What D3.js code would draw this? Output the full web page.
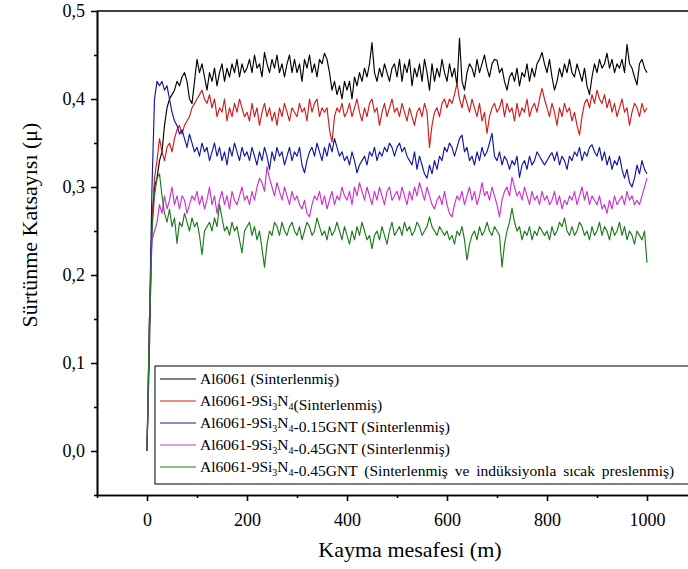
<!DOCTYPE html>
<html>
<head>
<meta charset="utf-8">
<script src="https://cdn.jsdelivr.net/npm/d3@7"></script>
<style>
  body { margin: 0; background: #fff; }
  svg { display: block; }
</style>
</head>
<body>
<svg id="chart" width="688" height="569"></svg>
<script>
// Sliding distance grid (m), one reading every 5 m
const distance = d3.range(0, 1001, 5);

// Friction coefficient readings per sample
const al6061 = [
  0.00,0.12,0.26,0.30,0.31,0.33,0.34,0.37,0.39,0.40,0.405,0.41,0.42,0.415,0.425,0.43,0.42,0.40,0.395,0.42,
  0.445,0.43,0.44,0.425,0.41,0.43,0.42,0.435,0.415,0.43,0.44,0.42,0.435,0.425,0.44,0.43,0.445,0.425,0.44,0.43,
  0.435,0.445,0.43,0.45,0.435,0.44,0.425,0.453,0.44,0.43,0.445,0.435,0.45,0.43,0.44,0.425,0.44,0.45,0.43,0.445,
  0.43,0.44,0.42,0.445,0.435,0.45,0.43,0.44,0.425,0.445,0.44,0.452,0.445,0.43,0.41,0.42,0.405,0.415,0.40,0.42,
  0.41,0.42,0.40,0.425,0.415,0.43,0.42,0.435,0.425,0.44,0.464,0.43,0.42,0.435,0.425,0.44,0.43,0.42,0.435,0.44,
  0.425,0.445,0.42,0.44,0.43,0.445,0.415,0.435,0.425,0.44,0.42,0.445,0.43,0.41,0.44,0.42,0.435,0.425,0.445,0.43,
  0.42,0.44,0.425,0.435,0.415,0.469,0.42,0.41,0.43,0.44,0.435,0.425,0.445,0.43,0.44,0.45,0.435,0.425,0.44,0.445,
  0.444,0.43,0.435,0.42,0.41,0.425,0.43,0.42,0.435,0.415,0.43,0.425,0.44,0.42,0.435,0.425,0.44,0.445,0.453,0.44,
  0.43,0.445,0.425,0.41,0.42,0.435,0.425,0.44,0.43,0.445,0.43,0.425,0.44,0.43,0.42,0.435,0.415,0.405,0.425,0.44,
  0.43,0.445,0.435,0.44,0.452,0.435,0.445,0.43,0.44,0.435,0.445,0.43,0.462,0.44,0.435,0.425,0.416,0.44,0.445,0.435,
  0.43
];
const al6061Si3N4 = [
  0.00,0.15,0.26,0.31,0.33,0.355,0.34,0.33,0.345,0.35,0.34,0.355,0.365,0.37,0.36,0.37,0.375,0.38,0.39,0.395,
  0.40,0.405,0.41,0.40,0.395,0.405,0.39,0.40,0.38,0.39,0.385,0.40,0.375,0.39,0.38,0.395,0.385,0.40,0.39,0.38,
  0.385,0.375,0.395,0.38,0.39,0.37,0.385,0.395,0.38,0.39,0.375,0.385,0.37,0.39,0.38,0.395,0.385,0.375,0.39,0.385,
  0.38,0.395,0.385,0.39,0.375,0.40,0.385,0.395,0.40,0.38,0.39,0.385,0.39,0.365,0.351,0.38,0.39,0.385,0.395,0.38,
  0.385,0.395,0.38,0.39,0.40,0.385,0.375,0.39,0.38,0.395,0.40,0.385,0.39,0.37,0.385,0.395,0.38,0.39,0.40,0.385,
  0.39,0.38,0.395,0.385,0.375,0.39,0.38,0.37,0.385,0.39,0.38,0.395,0.385,0.345,0.37,0.385,0.39,0.38,0.395,0.40,
  0.39,0.40,0.395,0.405,0.418,0.40,0.39,0.405,0.395,0.385,0.40,0.39,0.38,0.395,0.375,0.385,0.361,0.38,0.39,0.395,
  0.385,0.39,0.40,0.38,0.395,0.385,0.39,0.375,0.395,0.38,0.39,0.385,0.40,0.38,0.39,0.395,0.385,0.40,0.412,0.40,
  0.39,0.38,0.395,0.385,0.37,0.39,0.38,0.395,0.385,0.39,0.375,0.385,0.37,0.359,0.38,0.395,0.40,0.39,0.405,0.395,
  0.41,0.40,0.395,0.405,0.39,0.40,0.385,0.395,0.38,0.39,0.40,0.385,0.39,0.37,0.385,0.395,0.39,0.38,0.395,0.385,
  0.39
];
const al6061GNT015 = [
  0.00,0.15,0.30,0.40,0.42,0.415,0.42,0.41,0.415,0.40,0.385,0.375,0.37,0.36,0.365,0.355,0.345,0.36,0.35,0.34,
  0.345,0.335,0.35,0.34,0.345,0.33,0.34,0.35,0.335,0.345,0.33,0.34,0.325,0.345,0.335,0.35,0.34,0.33,0.345,0.335,
  0.34,0.33,0.345,0.335,0.325,0.34,0.33,0.345,0.335,0.32,0.34,0.33,0.345,0.335,0.34,0.325,0.335,0.345,0.33,0.34,
  0.335,0.345,0.325,0.316,0.33,0.34,0.345,0.335,0.35,0.34,0.33,0.345,0.335,0.35,0.34,0.355,0.345,0.335,0.34,0.33,
  0.335,0.325,0.34,0.33,0.316,0.325,0.33,0.335,0.325,0.34,0.335,0.345,0.33,0.34,0.335,0.345,0.34,0.35,0.345,0.335,
  0.345,0.35,0.34,0.345,0.335,0.33,0.325,0.34,0.32,0.335,0.325,0.315,0.31,0.325,0.315,0.33,0.32,0.335,0.33,0.345,
  0.34,0.35,0.345,0.335,0.345,0.355,0.359,0.34,0.345,0.33,0.335,0.325,0.34,0.33,0.345,0.335,0.34,0.35,0.361,0.335,
  0.33,0.34,0.325,0.335,0.33,0.32,0.33,0.325,0.335,0.311,0.325,0.33,0.32,0.335,0.325,0.33,0.34,0.335,0.33,0.325,
  0.33,0.335,0.339,0.33,0.34,0.325,0.335,0.33,0.32,0.335,0.33,0.34,0.335,0.345,0.33,0.34,0.335,0.345,0.348,0.34,
  0.335,0.345,0.33,0.34,0.325,0.335,0.32,0.33,0.325,0.335,0.32,0.31,0.32,0.305,0.30,0.31,0.325,0.315,0.33,0.32,
  0.315
];
const al6061GNT045 = [
  0.00,0.15,0.24,0.25,0.26,0.28,0.27,0.29,0.275,0.285,0.30,0.28,0.29,0.275,0.29,0.285,0.27,0.28,0.29,0.285,
  0.295,0.28,0.29,0.275,0.285,0.30,0.28,0.29,0.27,0.285,0.295,0.28,0.29,0.275,0.295,0.285,0.28,0.29,0.30,0.285,
  0.29,0.28,0.295,0.285,0.30,0.31,0.305,0.295,0.323,0.31,0.30,0.29,0.305,0.295,0.285,0.30,0.29,0.28,0.295,0.285,
  0.29,0.28,0.275,0.285,0.27,0.266,0.28,0.29,0.285,0.295,0.28,0.29,0.275,0.285,0.295,0.28,0.29,0.285,0.30,0.29,
  0.285,0.295,0.28,0.30,0.29,0.305,0.295,0.285,0.30,0.29,0.28,0.295,0.285,0.30,0.29,0.28,0.295,0.30,0.285,0.29,
  0.295,0.285,0.30,0.29,0.28,0.295,0.285,0.30,0.29,0.305,0.295,0.285,0.30,0.29,0.28,0.275,0.285,0.29,0.28,0.295,
  0.28,0.27,0.266,0.28,0.29,0.285,0.295,0.28,0.29,0.30,0.285,0.295,0.28,0.29,0.305,0.29,0.295,0.285,0.30,0.29,
  0.28,0.266,0.285,0.295,0.30,0.29,0.311,0.30,0.29,0.295,0.285,0.30,0.29,0.28,0.295,0.285,0.29,0.28,0.295,0.285,
  0.29,0.28,0.285,0.295,0.28,0.29,0.275,0.285,0.28,0.29,0.285,0.295,0.28,0.29,0.30,0.285,0.295,0.28,0.29,0.285,
  0.28,0.29,0.275,0.28,0.27,0.285,0.275,0.29,0.28,0.285,0.29,0.28,0.295,0.285,0.29,0.28,0.285,0.28,0.29,0.30,
  0.31
];
const al6061GNT045Hot = [
  0.00,0.15,0.25,0.29,0.31,0.315,0.29,0.27,0.26,0.275,0.255,0.265,0.236,0.26,0.255,0.27,0.26,0.25,0.265,0.255,
  0.26,0.245,0.223,0.25,0.255,0.26,0.25,0.265,0.255,0.28,0.265,0.25,0.255,0.245,0.26,0.25,0.255,0.24,0.225,0.25,
  0.255,0.26,0.245,0.255,0.24,0.25,0.23,0.209,0.235,0.25,0.245,0.26,0.255,0.245,0.26,0.25,0.245,0.255,0.26,0.25,
  0.245,0.255,0.24,0.25,0.26,0.255,0.245,0.25,0.265,0.255,0.245,0.25,0.24,0.255,0.245,0.25,0.26,0.25,0.24,0.255,
  0.245,0.235,0.25,0.24,0.255,0.245,0.26,0.25,0.24,0.245,0.23,0.245,0.25,0.24,0.255,0.245,0.235,0.25,0.26,0.245,
  0.25,0.255,0.245,0.26,0.25,0.255,0.245,0.25,0.26,0.255,0.245,0.25,0.255,0.266,0.255,0.25,0.245,0.255,0.25,0.245,
  0.25,0.24,0.245,0.235,0.25,0.245,0.255,0.24,0.217,0.235,0.245,0.25,0.24,0.255,0.245,0.25,0.26,0.25,0.245,0.255,
  0.25,0.245,0.209,0.235,0.25,0.26,0.276,0.26,0.25,0.255,0.24,0.25,0.245,0.255,0.24,0.25,0.245,0.255,0.25,0.245,
  0.25,0.24,0.255,0.245,0.25,0.26,0.255,0.265,0.25,0.245,0.255,0.245,0.25,0.26,0.255,0.245,0.25,0.24,0.255,0.245,
  0.25,0.26,0.245,0.255,0.25,0.24,0.255,0.245,0.25,0.26,0.245,0.255,0.24,0.25,0.245,0.235,0.25,0.245,0.24,0.25,
  0.214
];

const seriesNames = [
  "Al6061 (Sinterlenmiş)",
  "Al6061-9Si3N4(Sinterlenmiş)",
  "Al6061-9Si3N4-0.15GNT (Sinterlenmiş)",
  "Al6061-9Si3N4-0.45GNT (Sinterlenmiş)",
  "Al6061-9Si3N4-0.45GNT (Sinterlenmiş ve indüksiyonla sıcak preslenmiş)"
];
const seriesColors = ["#000000", "#d01c1c", "#1414a6", "#cc33cc", "#1e7a1e"];

const xTickValues = [0, 200, 400, 600, 800, 1000];
const xTickLabels = ["0", "200", "400", "600", "800", "1000"];
const xMinorTicks = [-100, 100, 300, 500, 700, 900, 1100];
const yTickValues = [0, 0.1, 0.2, 0.3, 0.4, 0.5];
const yTickLabels = ["0,0", "0,1", "0,2", "0,3", "0,4", "0,5"];
const yMinorTicks = [-0.05, 0.05, 0.15, 0.25, 0.35, 0.45];

const xTitle = "Kayma mesafesi (m)";
const yTitle = "Sürtünme Katsayısı (μ)";

const seriesValues = [al6061, al6061Si3N4, al6061GNT015, al6061GNT045, al6061GNT045Hot];

const FONT = "Liberation Serif";

const svg = d3.select("#chart");
const x = d3.scaleLinear().domain([-100, 1200]).range([97, 747]);
const y = d3.scaleLinear().domain([-0.05, 0.5]).range([495, 11]);

svg.append("clipPath").attr("id", "plot-clip")
  .append("rect")
  .attr("x", x.range()[0]).attr("y", y.range()[1])
  .attr("width", x.range()[1] - x.range()[0])
  .attr("height", y.range()[0] - y.range()[1]);

// Data lines
const line = d3.line()
  .x((d, i) => x(distance[i]))
  .y(d => y(d));

const plot = svg.append("g").attr("clip-path", "url(#plot-clip)");
seriesValues.forEach((vals, k) => {
  plot.append("path")
    .datum(vals)
    .attr("fill", "none")
    .attr("stroke", seriesColors[k])
    .attr("stroke-width", 1.15)
    .attr("stroke-linejoin", "round")
    .attr("d", line);
});

// Frame: top edge and right edge
svg.append("line")
  .attr("x1", x.range()[0]).attr("x2", x.range()[1])
  .attr("y1", y.range()[1]).attr("y2", y.range()[1])
  .attr("stroke", "#000").attr("stroke-width", 1.6);
svg.append("line")
  .attr("x1", x.range()[1]).attr("x2", x.range()[1])
  .attr("y1", y.range()[1]).attr("y2", y.range()[0])
  .attr("stroke", "#000").attr("stroke-width", 1.6);

// Axes
function styleAxis(g) {
  g.attr("font-family", FONT).attr("font-size", 18);
  g.select(".domain").attr("stroke", "#000").attr("stroke-width", 1.6);
  g.selectAll(".tick line").attr("stroke", "#000").attr("stroke-width", 1.6);
  g.selectAll("text").attr("fill", "#000");
}

const yAxis = svg.append("g")
  .attr("transform", `translate(${x.range()[0]},0)`)
  .call(d3.axisLeft(y).tickValues(yTickValues)
    .tickFormat((d, i) => yTickLabels[i]).tickSize(6).tickPadding(6).tickSizeOuter(0));
styleAxis(yAxis);
const yMinor = svg.append("g")
  .attr("transform", `translate(${x.range()[0]},0)`)
  .call(d3.axisLeft(y).tickValues(yMinorTicks).tickFormat("").tickSize(3).tickSizeOuter(0));
styleAxis(yMinor);

const xAxis = svg.append("g")
  .attr("transform", `translate(0,${y.range()[0]})`)
  .call(d3.axisBottom(x).tickValues(xTickValues)
    .tickFormat((d, i) => xTickLabels[i]).tickSize(6).tickPadding(12).tickSizeOuter(0));
styleAxis(xAxis);
const xMinor = svg.append("g")
  .attr("transform", `translate(0,${y.range()[0]})`)
  .call(d3.axisBottom(x).tickValues(xMinorTicks).tickFormat("").tickSize(3).tickSizeOuter(0));
styleAxis(xMinor);

// Axis titles
svg.append("text")
  .attr("x", 410).attr("y", 557)
  .attr("text-anchor", "middle")
  .attr("font-family", FONT).attr("font-size", 22)
  .text(xTitle);

svg.append("text")
  .attr("transform", "translate(37,225) rotate(-90)")
  .attr("text-anchor", "middle")
  .attr("font-family", FONT).attr("font-size", 22)
  .text(yTitle);

// Legend
const legend = svg.append("g").attr("font-family", FONT);
legend.append("rect")
  .attr("x", 155).attr("y", 366)
  .attr("width", 600).attr("height", 118)
  .attr("fill", "#fff").attr("stroke", "#000").attr("stroke-width", 1);

seriesNames.forEach((name, i) => {
  const cy = 379 + i * 22;
  legend.append("line")
    .attr("x1", 160).attr("x2", 196)
    .attr("y1", cy).attr("y2", cy)
    .attr("stroke", seriesColors[i]).attr("stroke-width", 1);
  const t = legend.append("text")
    .attr("x", 200).attr("y", cy + 5)
    .attr("font-size", 15.5)
    .attr("word-spacing", i === 4 ? 3 : 0);
  name.split(/(Si3N4)/).forEach(part => {
    if (part === "Si3N4") {
      t.append("tspan").text("Si");
      t.append("tspan").attr("dy", 4).attr("font-size", 10).text("3");
      t.append("tspan").attr("dy", -4).text("N");
      t.append("tspan").attr("dy", 4).attr("font-size", 10).text("4");
      t.append("tspan").attr("dy", -4).text("");
    } else if (part.length) {
      t.append("tspan").text(part);
    }
  });
});
</script>
</body>
</html>
